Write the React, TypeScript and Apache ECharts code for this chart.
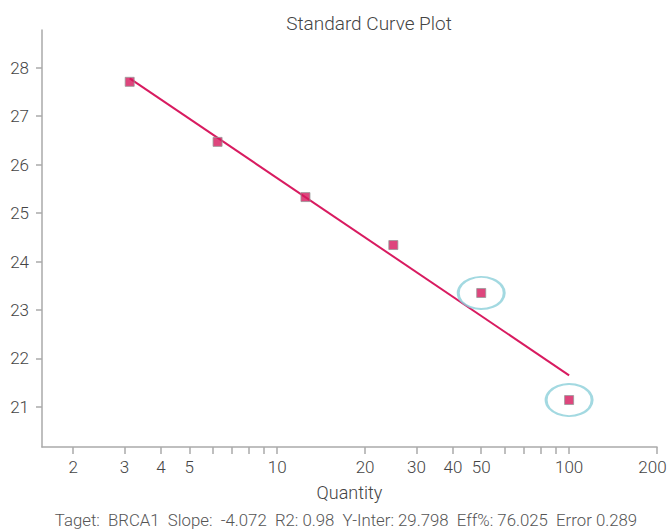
import React, { useEffect, useRef } from "react";
import * as echarts from "echarts";

const quantities = [3.125, 6.25, 12.5, 25, 50, 100];
const ctValues = [27.71, 26.47, 25.33, 24.34, 23.35, 21.14];
const fitLine = [
  [3.125, 27.78],
  [100, 21.65],
];
const outlierQuantities = [50, 100];
const outlierCt = [23.35, 21.14];
const xTickValues = [2, 3, 4, 5, 6, 7, 8, 9, 10, 20, 30, 40, 50, 60, 70, 80, 90, 100, 200];
const xLabelValues = [2, 3, 4, 5, 10, 20, 30, 40, 50, 100, 200];
const yTickValues = [21, 22, 23, 24, 25, 26, 27, 28];
const footerText =
  "Taget:  BRCA1  Slope:  -4.072  R2: 0.98  Y-Inter: 29.798  Eff%: 76.025  Error 0.289";

const FONT = "Roboto, 'Liberation Sans', sans-serif";

export default function App() {
  const ref = useRef<HTMLDivElement>(null);
  useEffect(() => {
    if (!ref.current) return;
    const chart = echarts.init(ref.current, undefined, { renderer: "svg" });
    chart.setOption({
      animation: false,
      backgroundColor: "#ffffff",
      graphic: [
        {
          type: "text",
          x: 369,
          y: 23,
          style: {
            text: "Standard Curve Plot",
            fontFamily: FONT,
            fontSize: 19,
            fontWeight: 300,
            fill: "#444",
            align: "center",
            verticalAlign: "middle",
          },
        },
        {
          type: "text",
          x: 346,
          y: 520,
          style: {
            text: footerText,
            fontFamily: FONT,
            fontSize: 16.8,
            fontWeight: 300,
            fill: "#555",
            align: "center",
            verticalAlign: "middle",
          },
        },
      ],
      grid: { left: 42, right: 11, top: 30, bottom: 82, containLabel: false, outerBoundsMode: "none" },
      xAxis: {
        type: "log",
        logBase: 10,
        min: 1.565,
        max: 200,
        name: "Quantity",
        nameLocation: "middle",
        nameGap: 36,
        nameTextStyle: { fontFamily: FONT, fontSize: 18, fontWeight: 300, color: "#444" },
        axisLine: { show: true, lineStyle: { color: "#aaa", width: 1.5 } },
        axisTick: { show: true, length: 7, customValues: xTickValues, lineStyle: { color: "#aaa", width: 1.5 } },
        axisLabel: {
          customValues: xLabelValues,
          margin: 11,
          fontFamily: FONT,
          fontSize: 17,
          fontWeight: 300,
          color: "#444",
          showMinLabel: true,
          showMaxLabel: true,
          formatter: (v: number) => (v >= 200 ? "{edge|" + v + "}" : String(v)),
          rich: {
            edge: {
              fontFamily: FONT,
              fontSize: 17,
              fontWeight: 300,
              color: "#444",
              padding: [0, 9, 0, 0],
            },
          },
        },
        splitLine: { show: false },
        minorTick: { show: false },
      },
      yAxis: {
        type: "value",
        min: 20.17,
        max: 28.78,
        axisLine: { show: true, lineStyle: { color: "#aaa", width: 1.5 } },
        axisTick: { show: true, length: 6, customValues: yTickValues, lineStyle: { color: "#aaa", width: 1.5 } },
        axisLabel: {
          customValues: yTickValues,
          margin: 13,
          fontFamily: FONT,
          fontSize: 17,
          fontWeight: 300,
          color: "#444",
        },
        splitLine: { show: false },
      },
      series: [
        {
          type: "line",
          data: fitLine,
          symbol: "none",
          lineStyle: { color: "#d81b60", width: 2 },
          z: 2,
        },
        {
          type: "scatter",
          data: outlierQuantities.map((q, i) => [q, outlierCt[i]]),
          symbol: "circle",
          symbolSize: [46, 32],
          itemStyle: { color: "rgba(0,0,0,0)", borderColor: "#8ccfd9", borderWidth: 2.5 },
          z: 3,
        },
        {
          type: "scatter",
          data: quantities.map((q, i) => [q, ctValues[i]]),
          symbol: "rect",
          symbolSize: 9,
          itemStyle: { color: "#d6185c", borderColor: "#999", borderWidth: 1 },
          z: 4,
        },
      ],
    });
    return () => chart.dispose();
  }, []);
  return <div ref={ref} style={{ width: 668, height: 529, position: "absolute", left: 0, top: 0 }} />;
}
